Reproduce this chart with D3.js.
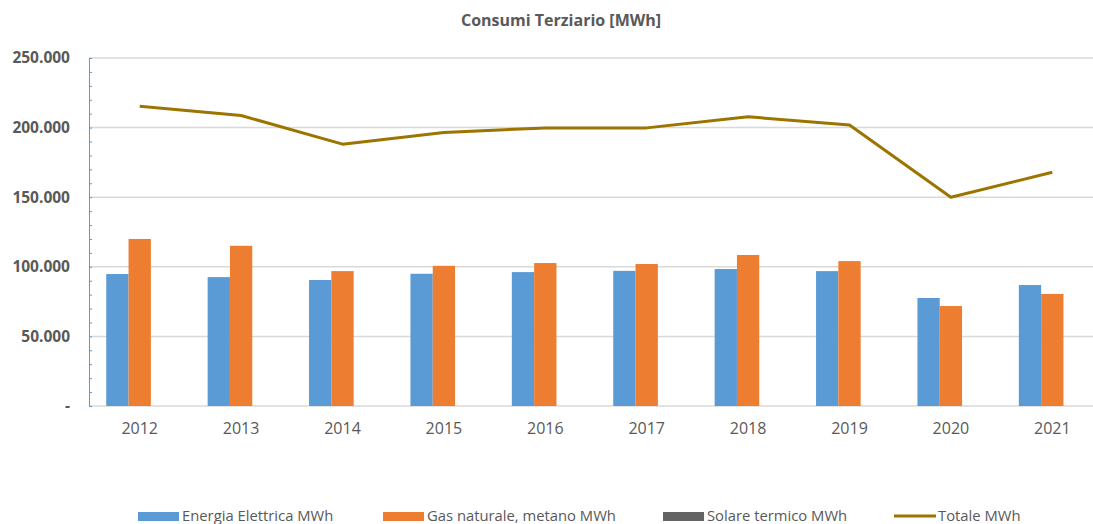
<!DOCTYPE html>
<html>
<head>
<meta charset="utf-8">
<title>Consumi Terziario</title>
<script src="https://cdn.jsdelivr.net/npm/d3@7"></script>
<style>
  body { margin: 0; background: #fff; }
  svg { display: block; font-family: "Open Sans", "Noto Sans", sans-serif; }
</style>
</head>
<body>
<div id="chart"></div>
<script>
// values (MWh)
var anni = ["2012", "2013", "2014", "2015", "2016", "2017", "2018", "2019", "2020", "2021"];
var elettrica = [94800, 92600, 90500, 95000, 96200, 97100, 98400, 96900, 77600, 86900];
var gas = [120000, 115100, 96900, 100700, 102700, 102000, 108500, 104100, 71800, 80500];
var solare = [0, 0, 0, 0, 0, 0, 0, 0, 0, 0];
var totale = [215300, 208700, 188100, 196500, 199800, 199800, 207800, 201800, 150000, 167900];
var yTicks = [0, 50000, 100000, 150000, 200000, 250000];
var serieNomi = ["Energia Elettrica MWh", "Gas naturale, metano MWh", "Solare termico MWh", "Totale MWh"];

var width = 1093, height = 524;
var colori = ["#5B9BD5", "#ED7D31", "#636363", "#9C7400"];

var svg = d3.select("#chart").append("svg")
    .attr("width", width).attr("height", height);

var x = d3.scaleBand().domain(anni).range([89, 1103])
    .paddingInner(0.34).paddingOuter(0.17);
var x1 = d3.scaleBand().domain([0, 1, 2]).range([0, x.bandwidth()]);
var y = d3.scaleLinear().domain([0, 250000]).range([406, 58]);

// title
svg.append("text").attr("x", 561).attr("y", 26)
    .attr("text-anchor", "middle")
    .style("font-size", "16px").style("font-weight", "bold").style("fill", "#595959")
    .text("Consumi Terziario [MWh]");

// gridlines
svg.append("g").selectAll("line").data(yTicks).enter().append("line")
    .attr("x1", 89).attr("x2", width)
    .attr("y1", function(d) { return y(d); }).attr("y2", function(d) { return y(d); })
    .style("stroke", "#D9D9D9").style("stroke-width", 1.5);

// y axis with minor ticks
var fmt = function(d) { return d === 0 ? "-" : d3.format(",")(d).replace(/,/g, "."); };
var yAxis = svg.append("g").attr("transform", "translate(89,0)")
    .call(d3.axisRight(y).tickValues(d3.range(0, 250001, 10000)).tickSize(3).tickFormat(""));
yAxis.select(".domain").style("stroke", "#5B9BD5");
yAxis.selectAll(".tick line").style("stroke", "#5B9BD5");

svg.append("g").selectAll("text").data(yTicks).enter().append("text")
    .attr("x", 70).attr("y", function(d) { return y(d); }).attr("dy", "0.35em")
    .attr("text-anchor", "end")
    .style("font-size", "15.5px").style("font-weight", "bold").style("fill", "#595959")
    .text(fmt);

// x labels
svg.append("g").selectAll("text").data(anni).enter().append("text")
    .attr("x", function(d) { return x(d) + x.bandwidth() / 2; }).attr("y", 428).attr("dy", "0.35em")
    .attr("text-anchor", "middle")
    .style("font-size", "16px").style("fill", "#595959")
    .text(function(d) { return d; });

// bars
var serie = [elettrica, gas, solare];
serie.forEach(function(vals, s) {
    svg.append("g").selectAll("rect").data(vals).enter().append("rect")
        .attr("x", function(d, i) { return x(anni[i]) + x1(s); })
        .attr("y", function(d) { return y(d); })
        .attr("width", x1.bandwidth())
        .attr("height", function(d) { return y(0) - y(d); })
        .style("fill", colori[s]);
});

// totale line
var line = d3.line()
    .x(function(d, i) { return x(anni[i]) + x.bandwidth() / 2; })
    .y(function(d) { return y(d); });
svg.append("path").datum(totale).attr("d", line)
    .style("fill", "none").style("stroke", colori[3]).style("stroke-width", 3)
    .style("stroke-linejoin", "round");

// legend
var legX = [138, 383, 663, 894];
var leg = svg.append("g").selectAll("g").data(serieNomi).enter().append("g")
    .attr("transform", function(d, i) { return "translate(" + legX[i] + ",516)"; });
leg.each(function(d, i) {
    var g = d3.select(this);
    if (i < 3) {
        g.append("rect").attr("x", 0).attr("y", -4).attr("width", 41).attr("height", 9).style("fill", colori[i]);
    } else {
        g.append("line").attr("x1", 0).attr("x2", 42).attr("y1", 0).attr("y2", 0)
            .style("stroke", colori[i]).style("stroke-width", 3);
    }
    g.append("text").attr("x", 44).attr("y", 0).attr("dy", "0.35em")
        .style("font-size", "14.8px").style("fill", "#595959")
        .text(d);
});
</script>
</body>
</html>
